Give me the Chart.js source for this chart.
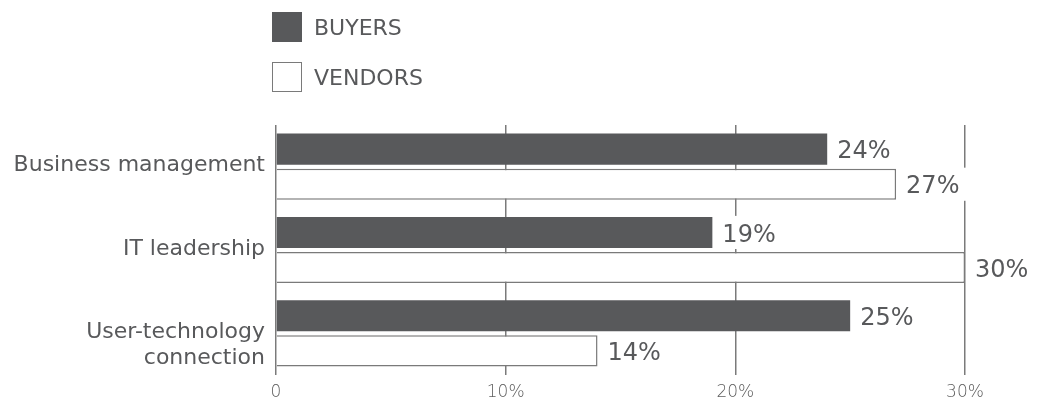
<!DOCTYPE html>
<html>
<head>
<meta charset="utf-8">
<script src="https://cdn.jsdelivr.net/npm/chart.js@4/dist/chart.umd.min.js"></script>
<style>
  body { margin: 0; background: #fff; font-family: "DejaVu Sans", sans-serif; }
  #wrap { position: relative; width: 1048px; height: 403px; }
  #chart { position: absolute; left: 0; top: 0; }
  .key { position: absolute; left: 272px; height: 30px; display: flex; align-items: center; color: #58595b; font-size: 22px; }
  .key span.box { width: 30px; height: 30px; box-sizing: border-box; margin-right: 12px; }
</style>
</head>
<body>
<div id="wrap">
  <canvas id="chart" width="1048" height="403"></canvas>
  <div class="key" style="top:12px"><span class="box" style="background:#58595b"></span>BUYERS</div>
  <div class="key" style="top:62px"><span class="box" style="border:1.5px solid #7a7a7a;background:#fff"></span>VENDORS</div>
</div>
<script>
// survey answers, percent of respondents
const categories = ['Business management', 'IT leadership', ['', 'User-technology', 'connection']];
const buyers = [24, 19, 25];
const vendors = [27, 30, 14];
const xTicks = [0, 10, 20, 30];

const ink = '#58595b';
const rule = '#7a7a7a';
const face = '"DejaVu Sans", sans-serif';

// value label to the right of each bar, on a white patch so the grid gets cut
const valueLabels = {
  id: 'valueLabels',
  afterDatasetsDraw(chart) {
    const ctx = chart.ctx;
    ctx.save();
    ctx.font = '24px ' + face;
    ctx.textBaseline = 'middle';
    ctx.textAlign = 'left';
    chart.data.datasets.forEach((ds, i) => {
      chart.getDatasetMeta(i).data.forEach((bar, j) => {
        const txt = ds.data[j] + '%';
        const x = bar.x + 10;
        const w = ctx.measureText(txt).width;
        ctx.fillStyle = '#fff';
        ctx.fillRect(x - 7, bar.y - bar.height / 2 - 1, w + 16, bar.height + 2);
        ctx.fillStyle = ink;
        ctx.fillText(txt, x, bar.y + 3);
      });
    });
    ctx.restore();
  }
};

new Chart(document.getElementById('chart'), {
  type: 'bar',
  data: {
    labels: categories,
    datasets: [
      { label: 'BUYERS', data: buyers, backgroundColor: ink, borderWidth: 0 },
      { label: 'VENDORS', data: vendors, backgroundColor: '#fff', borderColor: rule, borderWidth: 1.5 }
    ]
  },
  options: {
    indexAxis: 'y',
    responsive: false,
    animation: false,
    events: [],
    categoryPercentage: 0.843,
    barPercentage: 0.886,
    layout: { padding: { top: 125, right: 83, left: 0, bottom: 0 } },
    plugins: { legend: { display: false }, tooltip: { enabled: false } },
    scales: {
      x: {
        min: 0,
        max: 30,
        afterBuildTicks: s => { s.ticks = xTicks.map(v => ({ value: v })); },
        afterFit: s => { s.height = 28; },
        grid: { color: rule, lineWidth: 1.5, drawTicks: false },
        border: { display: false },
        ticks: {
          padding: 7,
          color: '#5e5e5e',
          font: { family: 'DejaVu Sans', size: 17, weight: 200 },
          callback: v => v === 0 ? '0' : v + '%'
        }
      },
      y: {
        afterFit: s => { s.width = 276; },
        grid: { display: false, drawTicks: false },
        border: { display: false },
        ticks: {
          padding: 11,
          color: ink,
          labelOffset: -1,
          font: { family: 'DejaVu Sans', size: 22 }
        }
      }
    }
  },
  plugins: [valueLabels]
});
</script>
</body>
</html>
